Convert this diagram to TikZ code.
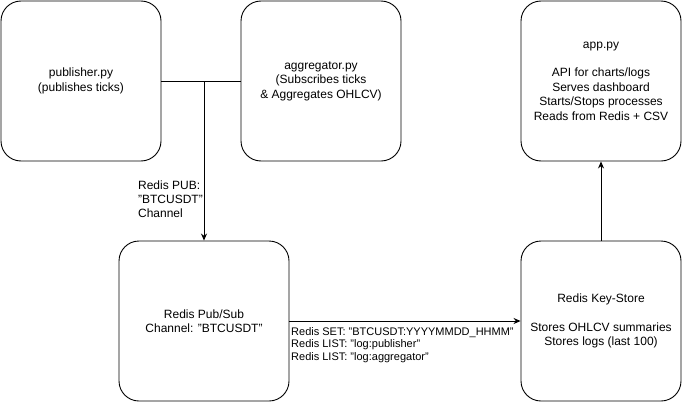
\documentclass[tikz,border=0pt]{standalone}
\usepackage{fontspec}
\setmainfont{Liberation Sans}
\usetikzlibrary{arrows.meta}

\begin{document}
\begin{tikzpicture}[x=1pt,y=-1pt,
  box/.style={rectangle,draw,line width=0.9pt,rounded corners=20pt,minimum width=160pt,minimum height=160pt,align=center,font=\fontsize{12}{14.4}\selectfont},
  lbl/.style={inner sep=0pt,align=left,font=\fontsize{11}{12.5}\selectfont},
  >={Stealth[length=7pt,width=6pt]}]
\useasboundingbox (0,0) rectangle (684,404);
\path (81,81) node[box](pub_py) {publisher.py\\(publishes ticks)}
(321,81) node[box](agg_py) {aggregator.py\\(Subscribes ticks\\\& Aggregates OHLCV)}
(601,81) node[box](app_py) {app.py\\[14.4pt]API for charts/logs\\Serves dashboard\\Starts/Stops processes\\Reads from Redis + CSV}
(204,321) node[box,minimum width=170pt](redis_ps) {Redis Pub/Sub\\Channel: "BTCUSDT"}
(601,321) node[box](redis_ks) {Redis Key-Store\\[14.4pt]Stores OHLCV summaries\\Stores logs (last 100)}
;
\coordinate (fork) at (redis_ps.north |- pub_py.east);
\draw[line width=0.9pt] (pub_py) -- (agg_py);
\draw[->,line width=0.9pt] (fork) -- (redis_ps);
\draw[->,line width=0.9pt] (redis_ps) -- (redis_ks);
\draw[->,line width=0.9pt] (redis_ks) -- (app_py);

\node[lbl,anchor=east,font=\fontsize{12}{14}\selectfont] (pub_lbl) at (203,199) {Redis PUB:\\"BTCUSDT"\\Channel};
\node[lbl,anchor=north west] (set_lbl) at (291,327) {Redis SET: "BTCUSDT:YYYYMMDD\_HHMM"\\Redis LIST: "log:publisher"\\Redis LIST: "log:aggregator"};

\end{tikzpicture}
\end{document}
